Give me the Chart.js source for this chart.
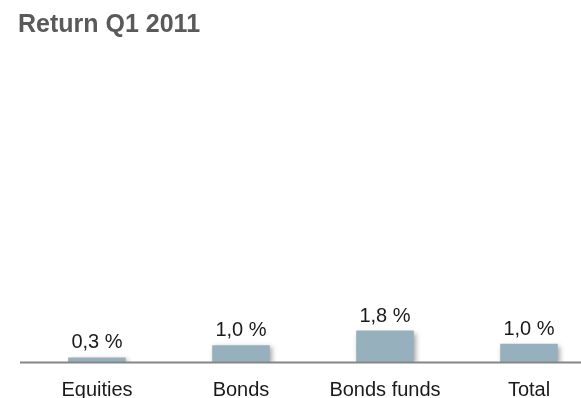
<!DOCTYPE html>
<html>
<head>
<meta charset="utf-8">
<script src="https://cdn.jsdelivr.net/npm/chart.js@4/dist/chart.umd.min.js"></script>
<style>
  html, body { margin: 0; padding: 0; background: #fff; overflow: hidden; }
  #wrap { position: relative; width: 581px; height: 398px; overflow: hidden; }
  #title { position: absolute; left: 18px; top: 11px; font: bold 25px "Liberation Sans", Arial, sans-serif;
           line-height: 25px; color: #5a5a5a; white-space: nowrap; z-index: 2; }
  #chart { position: absolute; left: 0; top: 0; }
</style>
</head>
<body>
<div id="wrap">
  <div id="title">Return Q1 2011</div>
  <canvas id="chart" width="620" height="426"></canvas>
</div>
<script>
const categories  = ["Equities", "Bonds", "Bonds funds", "Total"];
const returns     = [0.26, 0.96, 1.8, 1.04];
const valueLabels = ["0,3 %", "1,0 %", "1,8 %", "1,0 %"];

const barColor = "#97b0bd";

// soft shadow under the bars
const barShadow = {
    id: "barShadow",
    beforeDatasetsDraw(chart) {
        const ctx = chart.ctx;
        ctx.save();
        ctx.shadowColor = "rgba(0,0,0,0.35)";
        ctx.shadowBlur = 5;
        ctx.shadowOffsetX = 2;
        ctx.shadowOffsetY = 2;
    },
    afterDatasetsDraw(chart) {
        chart.ctx.restore();
    }
};

// baseline and the value labels over each bar
const overlay = {
    id: "overlay",
    afterDraw(chart) {
        const ctx = chart.ctx;
        const y0 = chart.scales.y.getPixelForValue(0);
        ctx.save();
        ctx.strokeStyle = "#858585";
        ctx.lineWidth = 2;
        ctx.beginPath();
        ctx.moveTo(20, y0 + 0.5);
        ctx.lineTo(chart.width, y0 + 0.5);
        ctx.stroke();

        ctx.font = '20px "Liberation Sans", Arial, sans-serif';
        ctx.fillStyle = "#1a1a1a";
        ctx.textAlign = "center";
        ctx.textBaseline = "alphabetic";
        chart.getDatasetMeta(0).data.forEach((bar, i) => {
            ctx.fillText(valueLabels[i], bar.x, bar.y - 9);
        });
        ctx.restore();
    }
};

new Chart(document.getElementById("chart"), {
    type: "bar",
    data: {
        labels: categories,
        datasets: [{
            data: returns,
            backgroundColor: barColor,
            borderWidth: 0,
            categoryPercentage: 1,
            barPercentage: 0.4
        }]
    },
    options: {
        responsive: false,
        animation: false,
        devicePixelRatio: 1,
        layout: { padding: { left: 25, right: 19, top: 187, bottom: 8 } },
        plugins: { legend: { display: false }, title: { display: false }, tooltip: { enabled: false } },
        scales: {
            x: {
                grid: { display: false, drawTicks: false },
                border: { display: false },
                ticks: {
                    padding: 16,
                    color: "#1a1a1a",
                    font: { family: '"Liberation Sans", Arial, sans-serif', size: 20 }
                }
            },
            y: {
                display: false,
                min: 0,
                max: 10
            }
        }
    },
    plugins: [barShadow, overlay]
});
</script>
</body>
</html>
